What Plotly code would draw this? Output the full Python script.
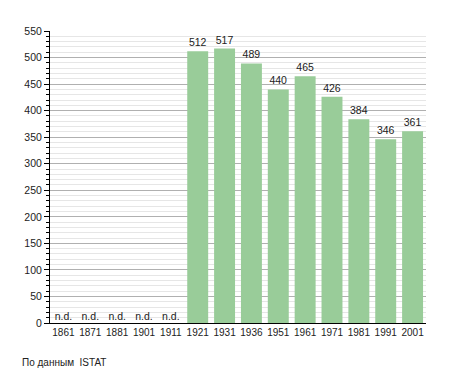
import plotly.graph_objects as go

years = ["1861", "1871", "1881", "1901", "1911", "1921", "1931", "1936",
         "1951", "1961", "1971", "1981", "1991", "2001"]
population = [None, None, None, None, None, 512, 517, 489, 440, 465, 426, 384, 346, 361]
missing_label = "n.d."
source_note = "По данным  ISTAT"

bar_x = [y for y, v in zip(years, population) if v is not None]
bar_y = [v for v in population if v is not None]
nd_x = [y for y, v in zip(years, population) if v is None]

font = "Liberation Sans, Arial, sans-serif"

fig = go.Figure()
fig.add_trace(go.Bar(
    x=bar_x, y=bar_y, text=[str(v) for v in bar_y], textposition="outside",
    textfont=dict(size=10.5, color="#222"), marker=dict(color="#99cc99", line=dict(width=0)),
    cliponaxis=False, width=0.78,
))
fig.add_trace(go.Scatter(
    x=nd_x, y=[0] * len(nd_x), mode="text", text=[missing_label] * len(nd_x),
    textposition="top center", textfont=dict(size=10.5, color="#222"),
))
fig.update_layout(
    width=447, height=365, margin=dict(l=42, r=29, t=23, b=50),
    paper_bgcolor="white", plot_bgcolor="white", showlegend=False,
    font=dict(family=font, size=10, color="#222"),
    xaxis=dict(type="category", categoryorder="array", categoryarray=years,
               showline=True, linecolor="black", linewidth=1, ticks="",
               tickfont=dict(size=10), showgrid=False, range=[-0.5, 13.5]),
    yaxis=dict(range=[0, 550], dtick=50, showline=True, linecolor="black", linewidth=1,
               ticks="outside", ticklen=5, tickcolor="black", showgrid=True,
               gridcolor="#b0b0b0", gridwidth=1, zeroline=False,
               minor=dict(dtick=10, ticks="outside", ticklen=3, tickcolor="black",
                          showgrid=True, gridcolor="#e6e6e6", gridwidth=1),
               tickfont=dict(size=10.5)),
    annotations=[dict(text=source_note, xref="paper", yref="paper", x=-30 / 376, y=-39 / 292,
                      xanchor="left", yanchor="middle", showarrow=False,
                      font=dict(size=10, color="#222"))],
)
fig.write_html("out.html")
